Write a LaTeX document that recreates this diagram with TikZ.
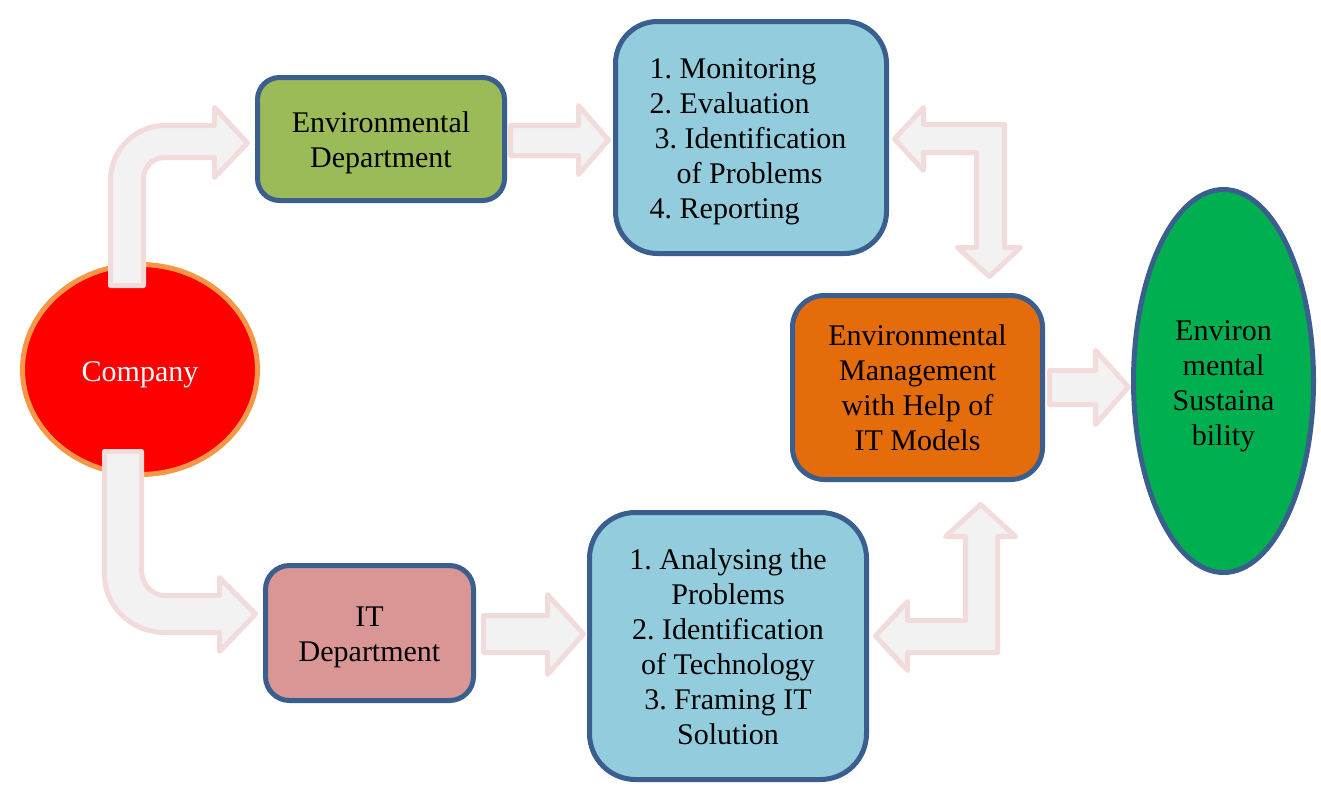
\documentclass[tikz,border=0pt]{standalone}
\usepackage{fontspec}
\setmainfont{Liberation Serif}
\usetikzlibrary{shapes.geometric,calc}
\definecolor{edgeblue}{HTML}{3A5F8E}
\definecolor{edgeorange}{HTML}{F79646}
\definecolor{fillgreen}{HTML}{9BBB59}
\definecolor{fillblue}{HTML}{93CDDD}
\definecolor{fillorange}{HTML}{E46C0A}
\definecolor{fillrose}{HTML}{D99694}
\definecolor{fillemerald}{HTML}{00B050}
\definecolor{arrowedge}{HTML}{F2DCDB}
\definecolor{arrowfill}{HTML}{F2F2F2}
\newcommand{\lift}[1]{\rule{0pt}{#1}}
\tikzset{
  lbl/.style={font=\fontsize{30}{35}\selectfont\frenchspacing,align=center,inner sep=0pt,text=black},
  boxbase/.style={lbl,draw=edgeblue,line width=5pt,minimum width=#1},
  greenbox/.style={boxbase=247pt,fill=fillgreen,minimum height=123pt,rounded corners=22pt},
  stepsa/.style={boxbase=271pt,fill=fillblue,minimum height=232pt,rounded corners=42pt},
  stepsb/.style={boxbase=277pt,fill=fillblue,minimum height=267pt,rounded corners=46pt},
  orangebox/.style={boxbase=250pt,fill=fillorange,minimum height=184pt,rounded corners=32pt},
  rosebox/.style={boxbase=208pt,fill=fillrose,minimum height=135pt,rounded corners=24pt},
  companyshape/.style={lbl,ellipse,draw=edgeorange,fill=red,line width=5pt,minimum width=235pt,minimum height=210pt,text=white},
  goalshape/.style={lbl,ellipse,draw=edgeblue,fill=fillemerald,line width=5pt,minimum width=180pt,minimum height=383pt},
  blockarrow/.style={draw=arrowedge,fill=arrowfill,line width=5pt,line join=round}
}
\begin{document}
\begin{tikzpicture}[x=1pt,y=-1pt]
\useasboundingbox (0,0) rectangle (1321,790);
\node[companyshape] (company) at (140,369.5) {\lift{30.5pt}Company};
\node[greenbox] (envdept) at (381,139) {\lift{28.5pt}Environmental\\Department};
\node[stepsa,align=left] (monitor) at (751,137.5) {\lift{28.5pt}1. Monitoring\\2. Evaluation\\\hspace*{5pt}3. Identification\rule{6pt}{0pt}\\\hspace*{27pt}of Problems\\4. Reporting};
\node[orangebox] (mgmt) at (917.5,387.5) {Environmental\\Management\\with Help of\\IT Models};
\node[goalshape] (goal) at (1223.5,381) {\lift{30.5pt}Environ\\mental\\Sustaina\\bility};
\node[rosebox] (itdept) at (369.5,633) {\lift{28.5pt}IT\\Department};
\node[stepsb] (analyse) at (728,646) {\lift{22.5pt}1. Analysing the\\Problems\\2. Identification\\of Technology\\3. Framing IT\\Solution};

% named ends of the block arrows, tied to the nodes they join
\coordinate (a1s) at ($(company.north)+(-13,23.5)$);
\coordinate (a1t) at ($(envdept.west)+(-7.5,4)$);
\coordinate (a2s) at ($(envdept.east)+(3.5,0)$);
\coordinate (a2t) at ($(monitor.west)+(-4.5,2.5)$);
\coordinate (a3s) at ($(itdept.east)+(7.5,0)$);
\coordinate (a3t) at ($(analyse.west)+(-3.5,-12)$);
\coordinate (a4s) at ($(mgmt.east)+(4.5,0)$);
\coordinate (a4t) at ($(goal.west)+(-2.5,6)$);
\coordinate (a5s) at ($(company.south)+(-17,-25.5)$);
\coordinate (a5t) at ($(itdept.west)+(-7.5,-19)$);
\coordinate (a6s) at ($(monitor.east)+(5.5,1.5)$);
\coordinate (a6t) at ($(mgmt.north)+(72,-16.5)$);
\coordinate (a7s) at ($(analyse.east)+(6.5,-10)$);
\coordinate (a7t) at ($(mgmt.south)+(63,22.5)$);

% company -> environmental department
\draw[blockarrow] (a1t) -- (214.5,177.5) -- (214.5,157.5) -- (165,157.5)
  .. controls (152,157.5) and (143.5,167) .. (143.5,180) -- (143.5,285.5) -- (a1s) -- (110.5,285.5) -- (110.5,180)
  .. controls (110.5,150) and (135,125.5) .. (165,125.5) -- (214.5,125.5) -- (214.5,107.5) -- cycle;
% environmental department -> monitoring box
\draw[blockarrow] (a2t) -- (578.5,174.5) -- (578.5,155.5) -- (510.5,155.5) -- (a2s) -- (510.5,125.5) -- (578.5,125.5) -- (578.5,105.5) -- cycle;
% IT department -> analysis box
\draw[blockarrow] (a3t) -- (547.5,674.5) -- (547.5,652.5) -- (483.5,652.5) -- (a3s) -- (483.5,615.5) -- (547.5,615.5) -- (547.5,594.5) -- cycle;
% management -> sustainability
\draw[blockarrow] (a4t) -- (1095.5,424.5) -- (1095.5,404.5) -- (1049.5,404.5) -- (a4s) -- (1049.5,370.5) -- (1095.5,370.5) -- (1095.5,350.5) -- cycle;
% company -> IT department
\draw[blockarrow] (a5t) -- (219.5,651.5) -- (219.5,632.5) -- (165,632.5)
  .. controls (131,632.5) and (104.5,606) .. (104.5,575) -- (104.5,451.5) -- (a5s) -- (141.5,451.5) -- (141.5,570)
  .. controls (141.5,584) and (152,595.5) .. (165,595.5) -- (219.5,595.5) -- (219.5,577.5) -- cycle;
% monitoring box <-> management
\draw[blockarrow] (a6s) -- (923.5,107.5) -- (923.5,124.5) -- (1004.5,124.5) -- (1004.5,247.5) -- (1020.5,247.5)
  -- (a6t) -- (957.5,247.5) -- (976.5,247.5) -- (976.5,152.5) -- (923.5,152.5) -- (923.5,170.5) -- cycle;
% analysis box <-> management
\draw[blockarrow] (a7s) -- (907.5,601.5) -- (907.5,620.5) -- (965.5,620.5) -- (965.5,536.5) -- (945.5,536.5)
  -- (a7t) -- (1015.5,536.5) -- (997.5,536.5) -- (997.5,652.5) -- (907.5,652.5) -- (907.5,670.5) -- cycle;
\end{tikzpicture}
\end{document}
